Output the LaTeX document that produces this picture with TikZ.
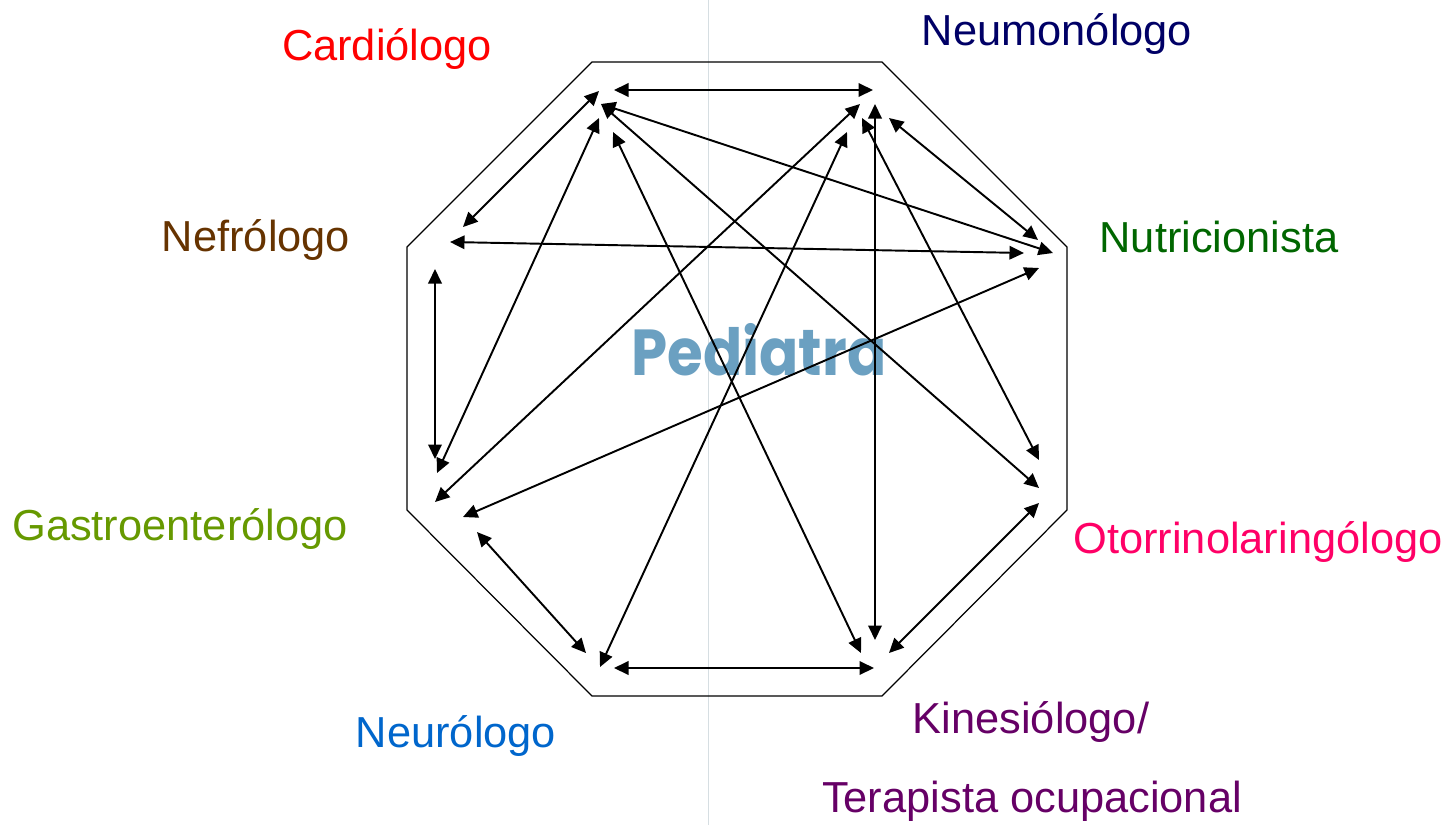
\documentclass[tikz,border=0pt]{standalone}
\usepackage{fontspec}
\setmainfont{Liberation Sans}
\newfontfamily\pedfont{Poppins}
\usepackage{tikz}
\usetikzlibrary{arrows.meta}
\definecolor{cardred}{HTML}{FF0000}
\definecolor{neumblue}{HTML}{000066}
\definecolor{nutrigreen}{HTML}{006600}
\definecolor{otopink}{HTML}{FF0066}
\definecolor{kinepurple}{HTML}{660066}
\definecolor{neurblue}{HTML}{0066CC}
\definecolor{gastrogreen}{HTML}{669900}
\definecolor{nefrbrown}{HTML}{663300}
\definecolor{pedblue}{HTML}{6BA0C1}
\definecolor{guidegray}{HTML}{D6DEE2}
\tikzset{
  spec/.style={anchor=base,inner sep=0pt,font=\fontsize{24.7pt}{29pt}\selectfont},
  frame/.style={line width=.7pt,line join=miter},
  link/.style={{Triangle[length=2.9mm,width=2.7mm]}-{Triangle[length=2.9mm,width=2.7mm]},line width=1.1pt},
}

\begin{document}
\begin{tikzpicture}[x=0.02cm,y=-0.02cm]
    \useasboundingbox (0,0) rectangle (1451,825);
    \draw[guidegray,line width=.5pt] (708,0) -- (708,825);
    \draw[frame] (592,62) -- (882,62) -- (1067,247) -- (1067,510) -- (882,696)
      -- (592,696) -- (407,510) -- (407,247) -- cycle;
    % labels
    \node[spec,text=cardred] (car) at (387,60) {Cardiólogo};
    \node[spec,text=neumblue] (neu) at (1057,45) {Neumonólogo};
    \node[spec,text=nutrigreen] (nut) at (1219,252) {Nutricionista};
    \node[spec,text=otopink] (oto) at (1258,553) {Otorrinolaringólogo};
    \node[spec,text=kinepurple] (kin) at (1031,733) {Kinesiólogo/};
    \node[spec,text=kinepurple] (ter) at (1032,812) {Terapista ocupacional};
    \node[spec,text=neurblue] (nrl) at (456,747) {Neurólogo};
    \node[spec,text=gastrogreen] (gas) at (180,540) {Gastroenterólogo};
    \node[spec,text=nefrbrown] (nef) at (256,251) {Nefrólogo};
    \node[anchor=base,inner sep=0pt,text=pedblue,font=\pedfont\bfseries\fontsize{37pt}{40pt}\selectfont] (ped) at (759,375) {\scalebox{0.89}[1]{Pediatra}};
    % arrow ends
    \coordinate (car1) at (614,90);  \coordinate (neu1) at (873,90);
    \coordinate (car2) at (599,91);  \coordinate (nef1) at (463,227);
    \coordinate (car3) at (601,104); \coordinate (nut1) at (1053,253);
    \coordinate (oto1) at (1039,488);
    \coordinate (car4) at (599,118); \coordinate (gas1) at (437,473);
    \coordinate (car5) at (613,132); \coordinate (kin1) at (861,653);
    \coordinate (neu2) at (860,104); \coordinate (gas2) at (435,502);
    \coordinate (neu3) at (847,132); \coordinate (nrl1) at (600,667);
    \coordinate (neu4) at (875,104); \coordinate (kin2) at (875,640);
    \coordinate (neu5) at (862,118); \coordinate (oto2) at (1039,460);
    \coordinate (neu6) at (889,118); \coordinate (nut2) at (1038,240);
    \coordinate (nef2) at (450,242); \coordinate (nut3) at (1024,253);
    \coordinate (nef3) at (435,269); \coordinate (gas3) at (435,459);
    \coordinate (nut4) at (1039,268); \coordinate (gas4) at (463,517);
    \coordinate (gas5) at (477,532); \coordinate (nrl2) at (586,653);
    \coordinate (nrl3) at (614,668); \coordinate (kin3) at (874,668);
    \coordinate (kin4) at (889,653); \coordinate (oto3) at (1039,503);
    % links
    \draw[link] (car1)--(neu1);\draw[link] (car2)--(nef1);\draw[link] (car3)--(nut1);
    \draw[link] (car3)--(oto1);\draw[link] (car4)--(gas1);\draw[link] (car5)--(kin1);
    \draw[link] (neu2)--(gas2);\draw[link] (neu3)--(nrl1);\draw[link] (neu4)--(kin2);
    \draw[link] (neu5)--(oto2);\draw[link] (neu6)--(nut2);\draw[link] (nef2)--(nut3);
    \draw[link] (nef3)--(gas3);\draw[link] (nut4)--(gas4);\draw[link] (gas5)--(nrl2);
    \draw[link] (nrl3)--(kin3);\draw[link] (kin4)--(oto3);
\end{tikzpicture}
\end{document}
